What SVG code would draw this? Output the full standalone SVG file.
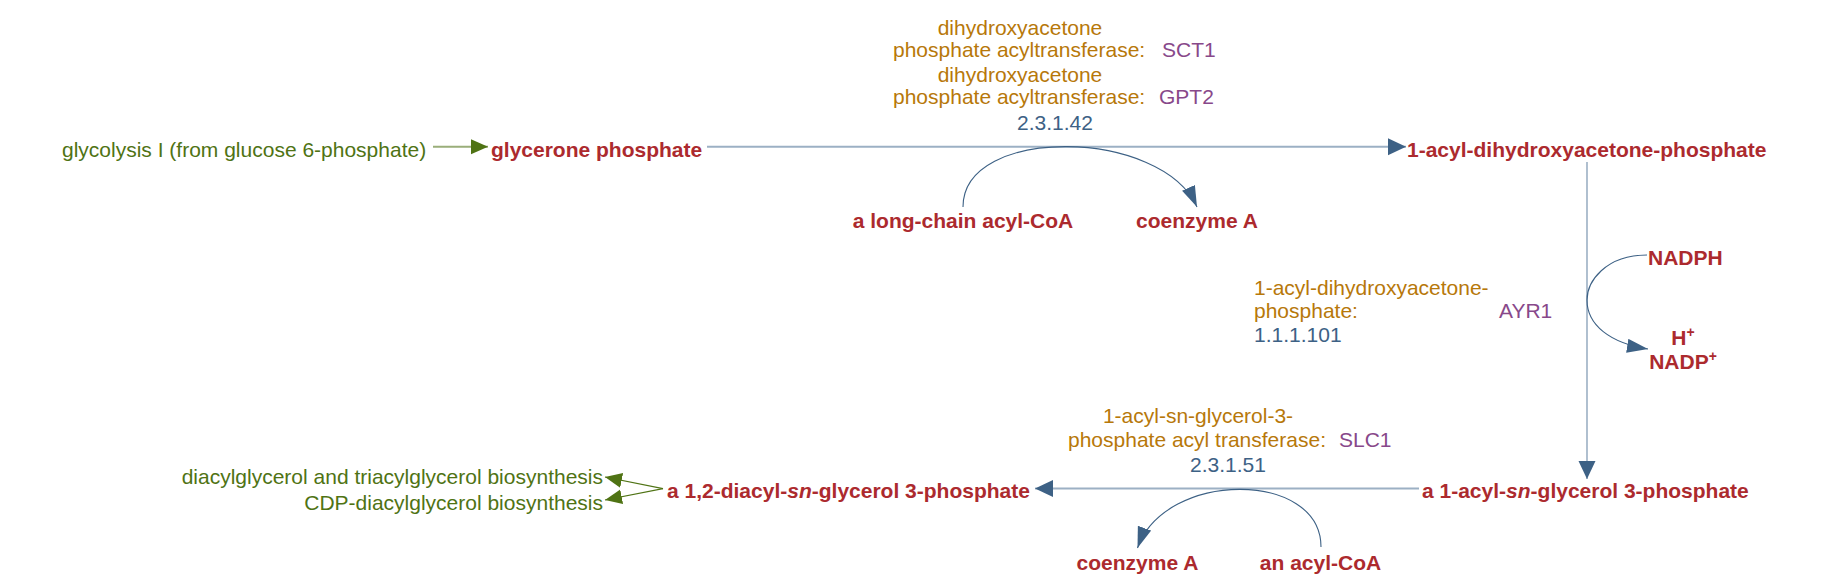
<svg xmlns="http://www.w3.org/2000/svg" width="1824" height="584" viewBox="0 0 1824 584">
<style>
text{font-family:"Liberation Sans",Arial,Helvetica,sans-serif;font-size:21px}
.cpd{fill:#ac2a2e;font-weight:bold}
.path{fill:#4f7314}
.enz{fill:#b7780a}
.gene{fill:#88488a}
.ec{fill:#3d6185}
.main{fill:none;stroke:#9cb0c4;stroke-width:2}
.side{fill:none;stroke:#3d6185;stroke-width:1.1}
.gl{fill:none;stroke:#9aae7a;stroke-width:2}
.gl2{fill:none;stroke:#4f7314;stroke-width:1.2}
</style>
<defs>
<marker id="ab" markerUnits="userSpaceOnUse" markerWidth="20" markerHeight="20" refX="18" refY="9" orient="auto"><path d="M0,0.5 L18,9 L0,17.5 Z" fill="#3d6185"/></marker>
<marker id="as" markerUnits="userSpaceOnUse" markerWidth="24" markerHeight="16" refX="21" refY="7" orient="auto"><path d="M0,0 L21,7 L0,14 Z" fill="#3d6185"/></marker>
<marker id="ag" markerUnits="userSpaceOnUse" markerWidth="20" markerHeight="18" refX="17" refY="7.5" orient="auto"><path d="M0,0 L17,7.5 L0,15 Z" fill="#4f7314"/></marker>
</defs>
<g id="connectors">
<path class="gl" d="M433,146.7 H488" marker-end="url(#ag)"/>
<path class="main" d="M707,146.7 H1406" marker-end="url(#ab)"/>
<path class="side" d="M963,207 C963,125 1162,128 1197,207" marker-end="url(#as)"/>
<path class="main" style="stroke-width:1.6" d="M1587,162 V479" marker-end="url(#ab)"/>
<path class="side" d="M1647,255 C1605,255 1587,282 1587,300 C1587,325 1610,343 1648,349" marker-end="url(#as)"/>
<path class="main" d="M1419,488.5 H1035" marker-end="url(#ab)"/>
<path class="side" d="M1321,547 C1321,470 1165,470 1137.5,548" marker-end="url(#as)"/>
<path class="gl2" d="M663,488.7 L605,477" marker-end="url(#ag)"/>
<path class="gl2" d="M663,488.7 L605,500" marker-end="url(#ag)"/>
</g>
<g id="glycolysis"><text class="path" x="62" y="157">glycolysis I (from glucose 6-phosphate)</text></g>
<g id="glycerone-phosphate"><text class="cpd" x="491" y="157">glycerone phosphate</text></g>
<g id="acyl-dhap"><text class="cpd" x="1407" y="157">1-acyl-dihydroxyacetone-phosphate</text></g>
<g id="long-chain-acyl-coa"><text class="cpd" x="963" y="228" text-anchor="middle">a long-chain acyl-CoA</text></g>
<g id="coa-1"><text class="cpd" x="1197" y="228" text-anchor="middle">coenzyme A</text></g>
<g id="nadph"><text class="cpd" x="1648" y="265">NADPH</text></g>
<g id="hplus"><text class="cpd" x="1683" y="345" text-anchor="middle">H<tspan dy="-8" font-size="14">+</tspan></text></g>
<g id="nadp"><text class="cpd" x="1683" y="369" text-anchor="middle">NADP<tspan dy="-8" font-size="14">+</tspan></text></g>
<g id="acyl-g3p"><text class="cpd" x="1422" y="498">a 1-acyl-<tspan font-style="italic">sn</tspan>-glycerol 3-phosphate</text></g>
<g id="diacyl-g3p"><text class="cpd" x="667" y="498">a 1,2-diacyl-<tspan font-style="italic">sn</tspan>-glycerol 3-phosphate</text></g>
<g id="coa-2"><text class="cpd" x="1137.5" y="570" text-anchor="middle">coenzyme A</text></g>
<g id="acyl-coa"><text class="cpd" x="1320.5" y="570" text-anchor="middle">an acyl-CoA</text></g>
<g id="dag-tag"><text class="path" x="603" y="484" text-anchor="end">diacylglycerol and triacylglycerol biosynthesis</text></g>
<g id="cdp-dag"><text class="path" x="603" y="510" text-anchor="end">CDP-diacylglycerol biosynthesis</text></g>
<g id="enzyme-1">
<text class="enz" x="1020" y="35" text-anchor="middle">dihydroxyacetone</text>
<text class="enz" x="893" y="57">phosphate acyltransferase:</text>
<text class="gene" x="1162" y="57">SCT1</text>
<text class="enz" x="1020" y="82" text-anchor="middle">dihydroxyacetone</text>
<text class="enz" x="893" y="104">phosphate acyltransferase:</text>
<text class="gene" x="1159" y="104">GPT2</text>
<text class="ec" x="1055" y="130" text-anchor="middle">2.3.1.42</text>
</g>
<g id="enzyme-2">
<text class="enz" x="1254" y="295">1-acyl-dihydroxyacetone-</text>
<text class="enz" x="1254" y="318">phosphate:</text>
<text class="gene" x="1499" y="318">AYR1</text>
<text class="ec" x="1254" y="342">1.1.1.101</text>
</g>
<g id="enzyme-3">
<text class="enz" x="1198" y="423" text-anchor="middle">1-acyl-sn-glycerol-3-</text>
<text class="enz" x="1068" y="447">phosphate acyl transferase:</text>
<text class="gene" x="1339" y="447">SLC1</text>
<text class="ec" x="1228" y="472" text-anchor="middle">2.3.1.51</text>
</g>
</svg>
